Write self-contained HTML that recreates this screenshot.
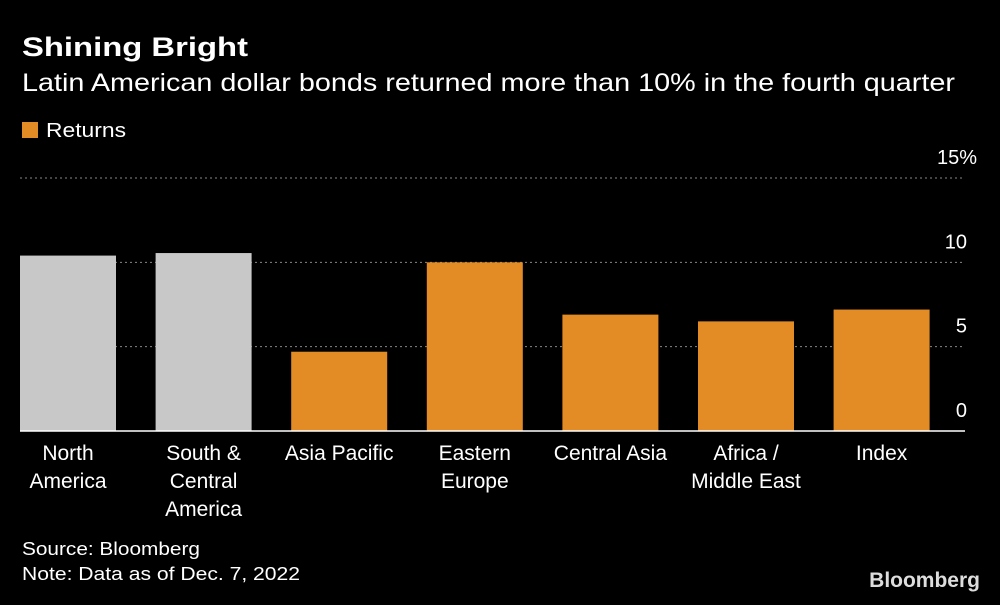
<!DOCTYPE html>
<html><head><meta charset="utf-8"><style>
body{margin:0;background:#000;width:1000px;height:600px;overflow:hidden;font-family:"Liberation Sans",sans-serif;color:#fff}
svg text{font-family:"Liberation Sans",sans-serif}
</style></head><body>
<svg width="1000" height="600">
<text x="22" y="56" font-size="27" font-weight="bold" fill="#fff" textLength="226" lengthAdjust="spacingAndGlyphs">Shining Bright</text>
<text x="22" y="91" font-size="25" fill="#fff" textLength="933" lengthAdjust="spacingAndGlyphs">Latin American dollar bonds returned more than 10% in the fourth quarter</text>
<rect x="22" y="122" width="16" height="16" fill="#e38c25"/>
<text x="46" y="137" font-size="20" fill="#fff" textLength="80" lengthAdjust="spacingAndGlyphs">Returns</text>
<g id="grid"></g><g id="bars"></g><g id="labels"></g>
<line x1="20" x2="965" y1="431" y2="431" stroke="#fff" stroke-width="1.5"/>
<text x="22" y="555" font-size="18" fill="#fff" textLength="178" lengthAdjust="spacingAndGlyphs">Source: Bloomberg</text>
<text x="22" y="580" font-size="18" fill="#fff" textLength="278" lengthAdjust="spacingAndGlyphs">Note: Data as of Dec. 7, 2022</text>
<text x="980" y="587" font-size="21" font-weight="bold" text-anchor="end" fill="#ddd">Bloomberg</text>
</svg>
<script>
const categories=[["North","America"],["South &","Central","America"],["Asia Pacific"],["Eastern","Europe"],["Central Asia"],["Africa /","Middle East"],["Index"]];
const values=[10.4,10.55,4.7,10.0,6.9,6.5,7.2];
const colors=["#c8c8c8","#c8c8c8","#e38c25","#e38c25","#e38c25","#e38c25","#e38c25"];
const ticks=[0,5,10,15];
const tickLabels=["0","5","10","15%"];
const NS="http://www.w3.org/2000/svg";
const y=v=>431-v*(431-178)/15;
const x0=20,step=135.6,bw=96;
const xc=i=>x0+bw/2+i*step;
function mk(t,a,p){const e=document.createElementNS(NS,t);for(const k in a)e.setAttribute(k,a[k]);document.getElementById(p).appendChild(e);return e;}
ticks.forEach((t,i)=>{
 if(t>0){const l=mk("line",{x1:20,x2:965,y1:y(t),y2:y(t),stroke:"#888","stroke-dasharray":"2,3","stroke-width":1},"grid");
 
 }
 const tx=mk("text",{x:t===15?977:967,y:y(t)-14,"font-size":20,fill:"#fff","text-anchor":"end"},"grid");
 tx.textContent=tickLabels[i];
 
 
});
values.forEach((v,i)=>{
 const r=mk("rect",{x:xc(i)-bw/2,y:y(v),width:bw,height:431-y(v),fill:colors[i]},"bars");
 
 
 categories[i].forEach((s,j)=>{
  const t=mk("text",{x:xc(i),y:460+j*28,"font-size":21,fill:"#fff","text-anchor":"middle"},"labels");
  t.textContent=s;
  
  
 });
});
</script>
</body></html>
